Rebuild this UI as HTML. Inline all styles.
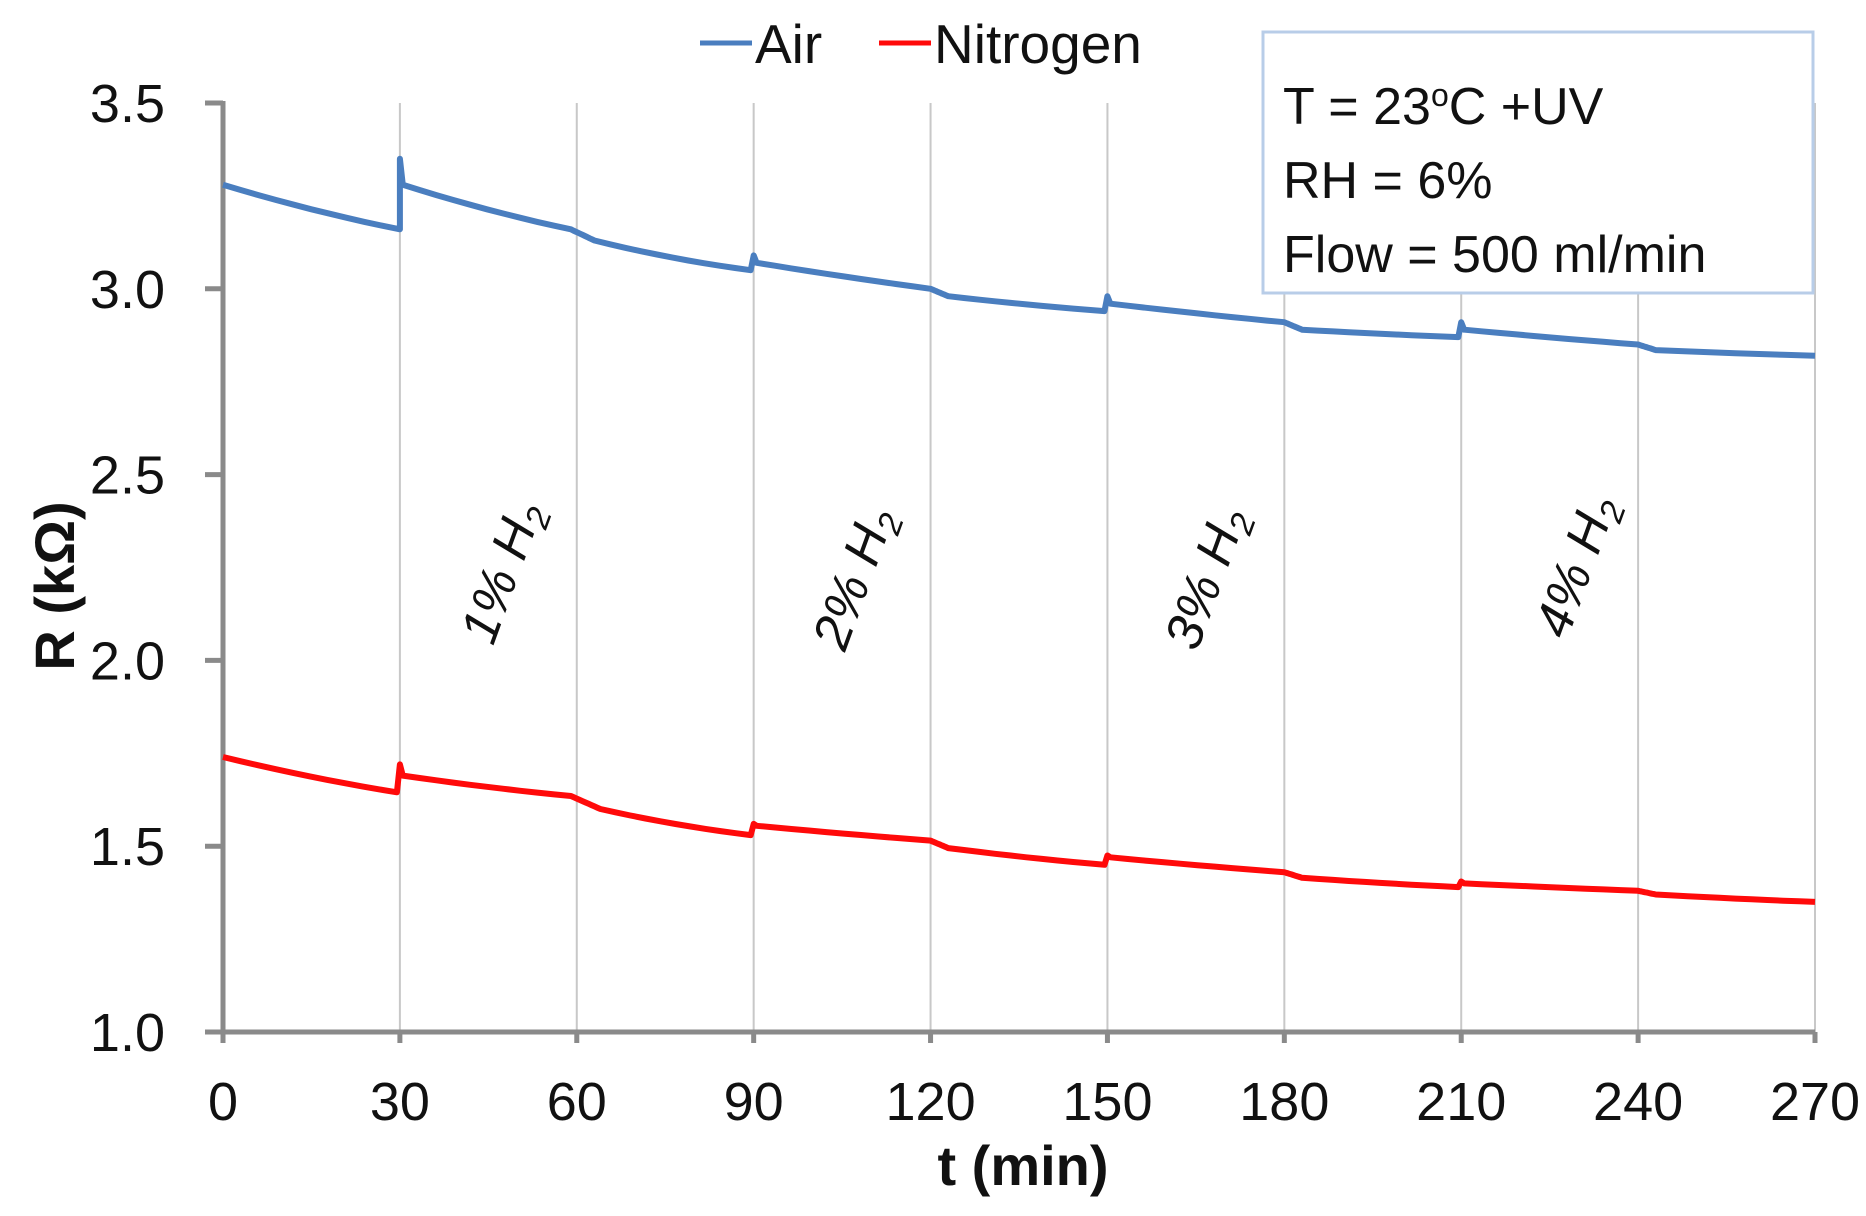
<!DOCTYPE html>
<html><head><meta charset="utf-8"><style>
html,body{margin:0;padding:0;background:#fff;}
svg{display:block;}
text{font-family:"Liberation Sans",sans-serif;fill:#111;}
</style></head><body>
<svg id="s" width="1866" height="1216" viewBox="0 0 1866 1216" xmlns="http://www.w3.org/2000/svg">
<g id="grid" stroke="#c8c8c8" stroke-width="2"></g>
<g id="axes" stroke="#8a8a8a" stroke-width="5" fill="none"></g>
<g id="ticks" font-size="54"></g>
<polyline id="air" fill="none" stroke="#4a7ebf" stroke-width="6" stroke-linejoin="round"/>
<polyline id="n2" fill="none" stroke="#ff0a0a" stroke-width="6" stroke-linejoin="round"/>
<rect x="1263" y="32" width="550" height="261" fill="#fff" stroke="#b8cde8" stroke-width="3"/>
<text x="1283" y="124" font-size="52">T = 23<tspan font-size="32" dy="-18">o</tspan><tspan dy="18">C +UV</tspan></text>
<text x="1283" y="198" font-size="52">RH = 6%</text>
<text x="1283" y="272" font-size="52">Flow = 500 ml/min</text>
<line x1="700" y1="43" x2="752" y2="43" stroke="#4a7ebf" stroke-width="5"/>
<text x="755" y="63" font-size="55">Air</text>
<line x1="879" y1="43" x2="931" y2="43" stroke="#ff0a0a" stroke-width="5"/>
<text x="934" y="63" font-size="55">Nitrogen</text>
<text x="1023" y="1185" font-size="56" font-weight="bold" text-anchor="middle">t (min)</text>
<text transform="translate(74,586) rotate(-90)" font-size="56" font-weight="bold" text-anchor="middle">R (kΩ)</text>
<g font-size="52" font-style="italic" text-anchor="middle">
<text transform="translate(518,578) rotate(-70)">1% H<tspan font-size="34" dy="10">2</tspan></text>
<text transform="translate(870,584) rotate(-70)">2% H<tspan font-size="34" dy="10">2</tspan></text>
<text transform="translate(1222,584) rotate(-70)">3% H<tspan font-size="34" dy="10">2</tspan></text>
<text transform="translate(1592,572) rotate(-70)">4% H<tspan font-size="34" dy="10">2</tspan></text>
</g>
</svg>
<script>
var X=function(t){return 223+t*(1592/270);};
var Y=function(v){return 1032-(v-1)*(929/2.5);};
var ns="http://www.w3.org/2000/svg";
function el(p,n,a,txt){var e=document.createElementNS(ns,n);for(var k in a)e.setAttribute(k,a[k]);if(txt)e.textContent=txt;p.appendChild(e);return e;}
var g=document.getElementById('grid'),ax=document.getElementById('axes'),tk=document.getElementById('ticks');
for(var t=30;t<=270;t+=30){el(g,'line',{x1:X(t),y1:103,x2:X(t),y2:1032});}
el(ax,'line',{x1:X(0),y1:101,x2:X(0),y2:1043});
el(ax,'line',{x1:205,y1:1032,x2:X(270),y2:1032});
for(var v=1;v<=3.51;v+=0.5){el(ax,'line',{x1:205,y1:Y(v),x2:X(0),y2:Y(v)});
 el(tk,'text',{x:165,y:Y(v)+19,'text-anchor':'end'},v.toFixed(1));}
for(var t=0;t<=270;t+=30){el(ax,'line',{x1:X(t),y1:1032,x2:X(t),y2:1043});
 el(tk,'text',{x:X(t),y:1120,'text-anchor':'middle'},String(t));}
function seg(pts,a,b,v0,v1,curv){for(var i=0;i<=10;i++){var f=i/10;var t=a+(b-a)*f;var v=v0+(v1-v0)*(f+curv*f*(1-f));pts.push(X(t).toFixed(1)+','+Y(v).toFixed(1));}}
function build(id,d){var p=[];for(var i=0;i<d.length;i++){var s=d[i];if(s.length==1){p.push(X(s[0][0]).toFixed(1)+','+Y(s[0][1]).toFixed(1));}else seg(p,s[0],s[1],s[2],s[3],s[4]||0);}document.getElementById(id).setAttribute('points',p.join(' '));}
build('air',[[0,30,3.28,3.16,0.2],[[30,3.35]],[[30.5,3.28]],[30.5,59,3.28,3.16,0.2],[59,63,3.16,3.13,0],[63,89.5,3.13,3.05,0.3],[[90,3.09]],[[90.5,3.07]],[90.5,120,3.07,3.00,0.1],[120,123,3.00,2.98,0],[123,149.5,2.98,2.94,0.2],[[150,2.98]],[[150.5,2.96]],[150.5,180,2.96,2.91,0.1],[180,183,2.91,2.89,0],[183,209.5,2.89,2.87,0.2],[[210,2.91]],[[210.5,2.89]],[210.5,240,2.89,2.85,0.1],[240,243,2.85,2.835,0],[243,270,2.835,2.82,0.2]]);
build('n2',[[0,29.5,1.74,1.645,0.2],[[30,1.72]],[[30.5,1.69]],[30.5,59,1.69,1.635,0.2],[59,64,1.635,1.60,0],[64,89.5,1.60,1.53,0.3],[[90,1.56]],[[90.5,1.555]],[90.5,120,1.555,1.515,0.1],[120,123,1.515,1.495,0],[123,149.5,1.495,1.45,0.2],[[150,1.475]],[[150.5,1.47]],[150.5,180,1.47,1.43,0.1],[180,183,1.43,1.415,0],[183,209.5,1.415,1.39,0.2],[[210,1.405]],[[210.5,1.40]],[210.5,240,1.40,1.38,0.1],[240,243,1.38,1.37,0],[243,270,1.37,1.35,0.2]]);
</script>
</body></html>
